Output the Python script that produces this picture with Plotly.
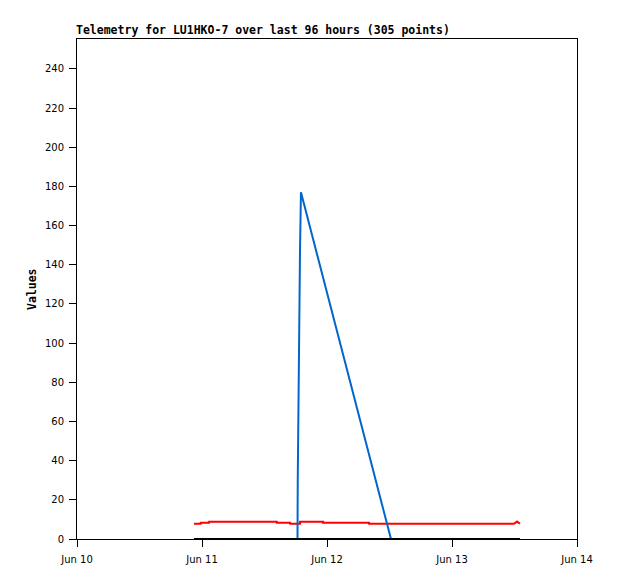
import plotly.graph_objects as go

# Black series (flat at 0)
black_t = ["2023-06-10 22:28", "2023-06-13 13:03"]
black_v = [0, 0]

# Red series
red_t = ["2023-06-10 22:28", "2023-06-10 23:45", "2023-06-10 23:46", "2023-06-11 01:21",
         "2023-06-11 01:22", "2023-06-11 14:21", "2023-06-11 14:22", "2023-06-11 16:54",
         "2023-06-11 16:55", "2023-06-11 18:49", "2023-06-11 18:50", "2023-06-11 23:14",
         "2023-06-11 23:15", "2023-06-12 08:04", "2023-06-12 08:05", "2023-06-13 11:54",
         "2023-06-13 12:29", "2023-06-13 13:03"]
red_v = [7.8, 7.8, 8.3, 8.3, 8.8, 8.8, 8.3, 8.3, 7.8, 7.8, 8.8, 8.8,
         8.3, 8.3, 7.8, 7.8, 8.9, 7.8]

# Blue series
blue_t = ["2023-06-10 22:28", "2023-06-11 18:20", "2023-06-11 18:23", "2023-06-11 18:34",
          "2023-06-11 18:49", "2023-06-11 19:00", "2023-06-12 12:17"]
blue_v = [0, 0, 30, 88, 147, 177, 0]

x_ticks = ["2023-06-10", "2023-06-11", "2023-06-12", "2023-06-13", "2023-06-14"]
x_tick_labels = ["Jun 10", "Jun 11", "Jun 12", "Jun 13", "Jun 14"]
y_ticks = list(range(0, 241, 20))

fig = go.Figure()
fig.add_trace(go.Scatter(x=red_t, y=red_v, mode="lines",
                         line=dict(color="#ff0000", width=2)))
fig.add_trace(go.Scatter(x=blue_t, y=blue_v, mode="lines",
                         line=dict(color="#0066cc", width=2)))
fig.add_trace(go.Scatter(x=black_t, y=black_v, mode="lines",
                         line=dict(color="#000000", width=2)))

fig.update_layout(
    width=618, height=579,
    margin=dict(l=69, r=49, t=31, b=48),
    paper_bgcolor="white", plot_bgcolor="white",
    showlegend=False,
    font=dict(family="DejaVu Sans", size=10, color="#000"),
    xaxis=dict(
        type="date", range=["2023-06-10", "2023-06-14"],
        tickvals=x_ticks, ticktext=x_tick_labels,
        ticks="outside", ticklen=7, tickcolor="#000", tickwidth=1,
        ticklabelstandoff=4,
        showgrid=False, zeroline=False,
        showline=True, linecolor="#000", linewidth=1, mirror=True,
        tickfont=dict(family="DejaVu Sans", size=10, color="#000"),
    ),
    yaxis=dict(
        range=[0, 255.3],
        tickvals=y_ticks,
        ticks="outside", ticklen=7, tickcolor="#000", tickwidth=1,
        ticklabelstandoff=3,
        showgrid=False, zeroline=False,
        showline=True, linecolor="#000", linewidth=1, mirror=True,
        tickfont=dict(family="DejaVu Sans", size=10, color="#000"),
    ),
    annotations=[
        dict(text="<b>Telemetry for LU1HKO-7 over last 96 hours (305 points)</b>",
             xref="paper", yref="paper", x=0, y=1, xanchor="left", yanchor="bottom",
             xshift=-3, yshift=0, showarrow=False,
             font=dict(family="DejaVu Sans Mono", size=11.5, color="#000")),
        dict(text="<b>Values</b>", textangle=-90,
             xref="paper", yref="paper", x=0, y=0.5, xanchor="center", yanchor="middle",
             xshift=-45, showarrow=False,
             font=dict(family="DejaVu Sans Mono", size=11.5, color="#000")),
    ],
)

fig.write_html("out.html")
